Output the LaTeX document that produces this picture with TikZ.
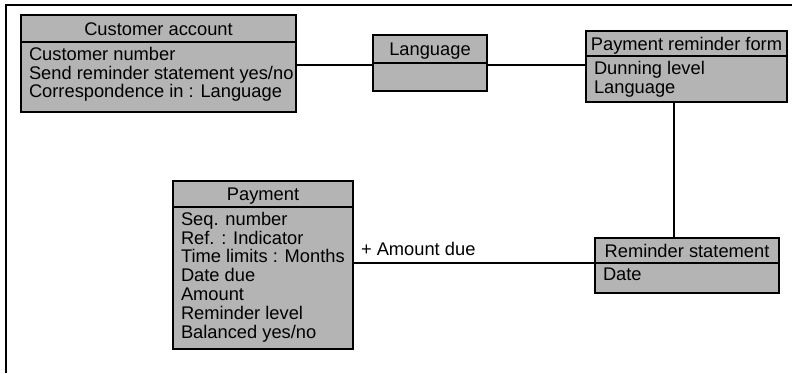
\documentclass[tikz,border=0pt]{standalone}
\usepackage{fontspec}
\setmainfont{Liberation Sans}
\definecolor{boxgray}{RGB}{180,180,180}
\newcommand{\umlfont}{\fontsize{18.3}{18.8}\selectfont}
\begin{document}
\begin{tikzpicture}[x=1pt,y=-1pt,
  every node/.style={inner sep=0pt, outer sep=0pt},
  classhead/.style={draw, fill=boxgray, line width=1.8pt, anchor=north west,
    text height=15.5pt, text depth=2.5pt, font=\umlfont},
  classbody/.style={draw, fill=boxgray, line width=1.8pt, anchor=north west},
  attrs/.style={anchor=north west, align=left, font=\umlfont},
  link/.style={line width=1.8pt}]

\useasboundingbox (0,0) rectangle (792,373);

% outer frame
\draw[line width=2pt] (6,373) -- (6,5) -- (792,5);

% Customer account
\node[classhead, minimum width=275pt, minimum height=27pt] (ca) at (21,15) {Customer account};
\node[classbody, minimum width=275pt, minimum height=70pt] (cab) at (ca.south west) {};
\node[attrs] (cat) at ([xshift=8pt,yshift=-5pt]cab.north west)
  {Customer number\\Send reminder statement yes/no\\Correspondence in : Language};

% Language
\node[classhead, minimum width=114pt, minimum height=28pt] (lang) at (373,35) {Language};
\node[classbody, minimum width=114pt, minimum height=28pt] (langb) at (lang.south west) {};

% Payment reminder form
\node[classhead, minimum width=201pt, minimum height=25pt] (prf) at (586,31) {Payment reminder form};
\node[classbody, minimum width=201pt, minimum height=46pt] (prfb) at (prf.south west) {};
\node[attrs] (prft) at ([xshift=8pt,yshift=-5pt]prfb.north west) {Dunning level\\Language};

% Payment
\node[classhead, minimum width=180pt, minimum height=26pt] (pay) at (173,181) {Payment};
\node[classbody, minimum width=180pt, minimum height=142pt] (payb) at (pay.south west) {};
\node[attrs] (payt) at ([xshift=8pt,yshift=-5pt]payb.north west)
  {Seq. number\\Ref. : Indicator\\Time limits : Months\\Date due\\Amount\\Reminder level\\Balanced yes/no};

% Reminder statement
\node[classhead, minimum width=184pt, minimum height=25pt] (rs) at (595,238) {Reminder statement};
\node[classbody, minimum width=184pt, minimum height=30pt] (rsb) at (rs.south west) {};
\node[attrs] (rst) at ([xshift=8pt,yshift=-5pt]rsb.north west) {Date};

% associations
\coordinate (la) at ([yshift=-2pt]lang.south west);
\coordinate (lb) at ([yshift=-2pt]lang.south east);
\draw[link] (la) -- (la -| cab.east);
\draw[link] (lb) -- (lb -| prfb.west);
\coordinate (vx) at (674,0);
\draw[link] (prfb.south -| vx) -- (rs.north -| vx);
\draw[link] (rs.south west) -- (rs.south west -| payb.east);
\node[font=\umlfont, anchor=base west] (due) at (361,255) {+ Amount due};
\end{tikzpicture}
\end{document}
